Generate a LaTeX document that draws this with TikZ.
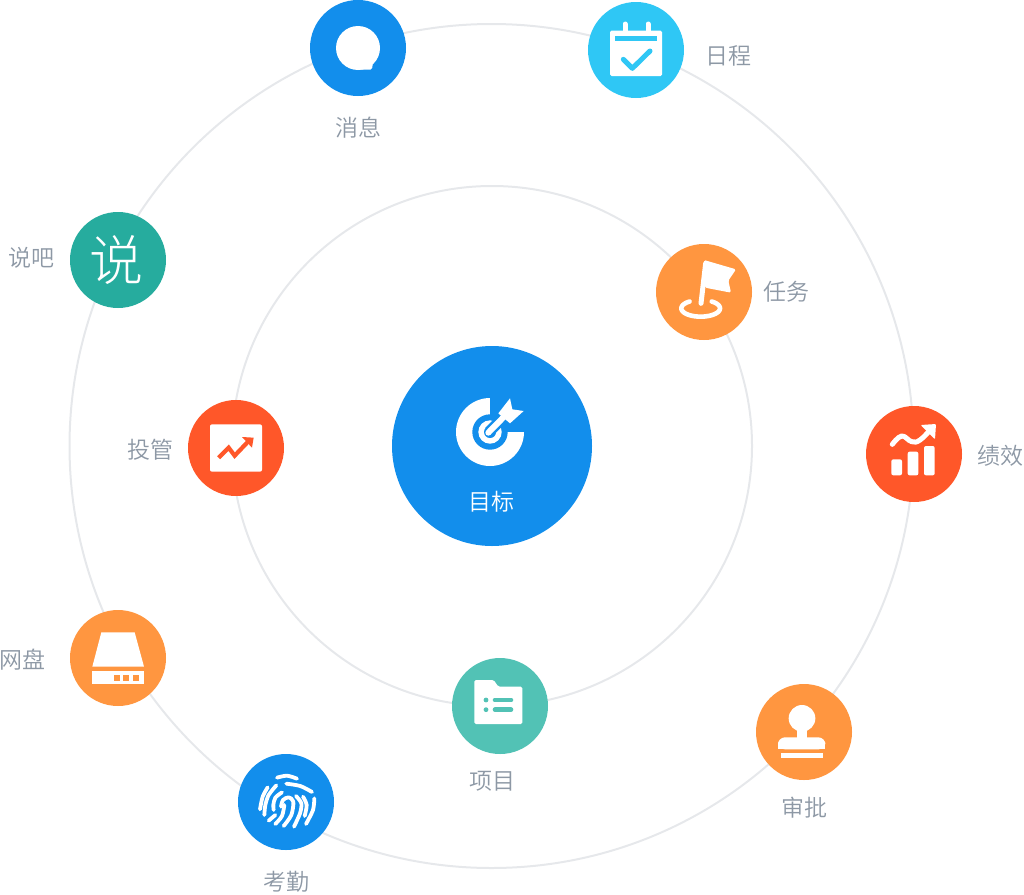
\documentclass[tikz,border=0pt]{standalone}
\usepackage{fontspec}
\setmainfont{Noto Sans CJK SC}
\newfontfamily\lightcjk{Noto Sans CJK SC Light}
\newfontfamily\demicjk{Noto Sans CJK SC DemiLight}
\definecolor{cblue}{HTML}{128EEC}
\definecolor{ccyan}{HTML}{2FC7F5}
\definecolor{corange}{HTML}{FF9640}
\definecolor{cred}{HTML}{FF5729}
\definecolor{cgreen}{HTML}{26AC9E}
\definecolor{cteal}{HTML}{52C2B5}
\definecolor{cring}{HTML}{E6E8EB}
\definecolor{clabel}{HTML}{8D98A5}
\tikzset{
  ring/.style={circle,draw=cring,line width=2pt,inner sep=0pt,fill=none},
  disc/.style={circle,inner sep=0pt,minimum size=96pt,fill=#1},
  lab/.style={text=clabel,inner sep=0pt,font=\demicjk\fontsize{23}{24}\selectfont},
  st/.style={draw=white,line cap=round,line join=round,line width=#1},
}
\begin{document}
\begin{tikzpicture}[x=1pt,y=-1pt]
\useasboundingbox (0,0) rectangle (1024,894);
% rings
\node[ring,minimum size=844pt] (outer) at (491.5,446) {};
\node[ring,minimum size=520pt] (inner) at (492,446) {};
% discs
\node[disc=cblue,minimum size=200pt] (goal) at (492,446) {};
\node[disc=cblue] (msg) at (358,48) {};
\node[disc=ccyan] (cal) at (636,50) {};
\node[disc=corange] (task) at (704,292) {};
\node[disc=cred] (perf) at (914,454) {};
\node[disc=corange] (appr) at (804,732) {};
\node[disc=cteal] (proj) at (500,706) {};
\node[disc=cblue] (att) at (286,802) {};
\node[disc=corange] (disk) at (118,658) {};
\node[disc=cred] (inv) at (236,448) {};
\node[disc=cgreen] (say) at (118,260) {};
\node[text=white,inner sep=0pt,font=\lightcjk\fontsize{54}{56}\selectfont] (saytext) at (116,260) {说};
% labels
\node[lab] (l1) at (358,127.5) {消息};
\node[lab] (l2) at (728.5,55.5) {日程};
\node[lab] (l3) at (786,291.5) {任务};
\node[lab] (l4) at (1000,455.5) {绩效};
\node[lab] (l5) at (804,807.5) {审批};
\node[lab] (l6) at (492,781.5) {项目};
\node[lab] (l7) at (286,881.5) {考勤};
\node[lab] (l8) at (22,659.5) {网盘};
\node[lab] (l9) at (150,449.5) {投管};
\node[lab] (l10) at (32,257.5) {说吧};
\node[lab,text=white] (l11) at (491,501.5) {目标};
% message icon
\fill[white] (358,48) circle (22);
\fill[white,rounded corners=1.5pt] (356,69.5) -- (372,69.5) -- (373,62) -- (366,60) -- cycle;
% calendar icon
\begin{scope}[shift={(300,0)},scale=1/3]
\fill[white,rounded corners=1.5pt] (930,92) rectangle (1086,228);
\draw[st=5pt] (975,72) -- (975,95);
\draw[st=5pt] (1044,72) -- (1044,95);
\fill[ccyan] (945,107) rectangle (1071,122);
\draw[st=5pt,draw=ccyan] (970,178) -- (997,205) -- (1050,153);
\end{scope}
% goal icon
\fill[white] (490,432) circle (34);
\fill[cblue] (490,396) rectangle (526,431.7);
\fill[cblue] (490,432) circle (17.7);
\fill[white] (490,432) circle (11.7);
\fill[cblue] (490,432) circle (6);
\begin{scope}[shift={(430,380)},scale=1/3]
\draw[draw=cblue,line width=11pt] (178,155) -- (232,100);
\draw[st=6pt] (175,158) -- (225,107);
\fill[white] (240,55) -- (247,88) -- (281,93) -- (240,130) -- (205,100) -- cycle;
\end{scope}
% task icon
\begin{scope}[shift={(650,240)},scale=1/3]
\fill[white,rounded corners=1.5pt] (162,60) -- (258,88) -- (235,122) -- (243,158) -- (165,143) -- cycle;
\draw[st=5pt] (167,70) -- (153,190);
\draw[st=4.6pt] plot[domain=-55:235,samples=50] ({152+58*cos(\x)},{205+25*sin(\x)});
\end{scope}
% performance icon
\begin{scope}[shift={(860,400)},scale=1/3]
\fill[white,rounded corners=2pt] (94,178) rectangle (126,226);
\fill[white,rounded corners=2pt] (143,155) rectangle (175,226);
\fill[white,rounded corners=2pt] (192,138) rectangle (224,226);
\draw[st=5pt] plot[smooth,tension=.7] coordinates {(97,133) (125,108) (155,125) (180,120) (215,85)};
\fill[white,rounded corners=1pt] (182,75) -- (228,72) -- (225,118) -- cycle;
\end{scope}
% stamp icon
\begin{scope}[shift={(750,680)},scale=1/3]
\fill[white] (156,115) circle (40);
\fill[white] (140,130) rectangle (172,180);
\fill[white,rounded corners=7pt] (84,208) -- (84,172) -- (226,172) -- (226,208) -- cycle;
\fill[white] (84,190) rectangle (226,208);
\fill[white] (92,218) rectangle (220,234);
\end{scope}
% folder icon
\begin{scope}[shift={(445,655)},scale=1/3]
\fill[white,rounded corners=1.5pt] (88,75) -- (146,75) -- (160,95) -- (232,95) -- (232,207) -- (88,207) -- cycle;
\fill[cteal] (123,135) circle (7.2);
\fill[cteal] (123,164) circle (7.2);
\draw[draw=cteal,line width=4.6pt,line cap=round] (150,135) -- (198,135);
\draw[draw=cteal,line width=4.6pt,line cap=round] (150,164) -- (198,164);
\end{scope}
% fingerprint icon
\begin{scope}[shift={(232,750)},scale=1/3]
\tikzset{fp/.style={st=3.8pt}}
\draw[fp] plot[smooth] coordinates {(135,83) (165,77) (195,86)};
\draw[fp] plot[smooth] coordinates {(163,101) (205,108) (240,126)};
\draw[fp] plot[smooth] coordinates {(107,112) (92,140) (84,178)};
\draw[fp] plot[smooth] coordinates {(133,106) (110,135) (100,165) (97,195)};
\draw[fp] plot[smooth] coordinates {(150,127) (130,143) (124,165) (125,180)};
\draw[fp] plot[smooth] coordinates {(110,212) (130,195)};
\draw[fp] plot[smooth] coordinates {(130,222) (150,198) (157,165)};
\draw[fp] plot[smooth] coordinates {(147,170) (153,150) (170,142) (184,155) (178,195) (155,228)};
\draw[fp] plot[smooth] coordinates {(192,138) (208,160) (204,190) (186,230)};
\draw[fp] plot[smooth] coordinates {(213,140) (224,165) (218,198)};
\draw[fp] plot[smooth] coordinates {(247,145) (243,180) (222,222)};
\end{scope}
% disk icon
\begin{scope}[shift={(64,605)},scale=1/3]
\fill[white] (112,82) -- (212,82) -- (240,185) -- (85,185) -- cycle;
\fill[white] (84,198) rectangle (240,236);
\fill[corange] (150,210) rectangle (167,227);
\fill[corange] (178,210) rectangle (195,227);
\fill[corange] (207,210) rectangle (224,227);
\end{scope}
% invest icon
\begin{scope}[shift={(182,395)},scale=1/3]
\fill[white,rounded corners=2pt] (84,88) rectangle (240,230);
\draw[draw=cred,line width=4.2pt,line join=miter] (110,188) -- (140,158) -- (158,182) -- (200,138);
\fill[cred] (180,126) -- (215,128) -- (210,158) -- cycle;
\end{scope}
\end{tikzpicture}
\end{document}
